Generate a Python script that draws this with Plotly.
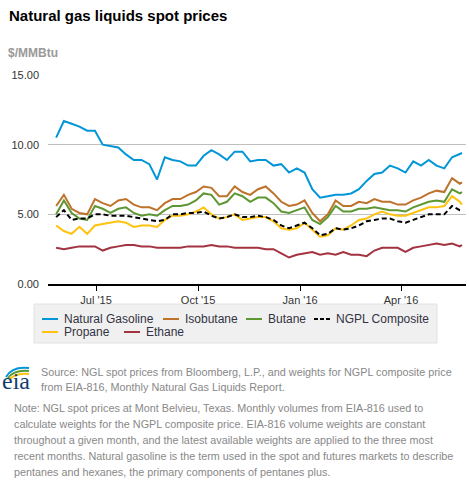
import plotly.graph_objects as go

# ---------------- data ----------------
dates = [
    "2015-05-26", "2015-06-02", "2015-06-09", "2015-06-16", "2015-06-23", "2015-06-30",
    "2015-07-07", "2015-07-14", "2015-07-21", "2015-07-28", "2015-08-04", "2015-08-11",
    "2015-08-18", "2015-08-25", "2015-09-01", "2015-09-08", "2015-09-15", "2015-09-22",
    "2015-09-29", "2015-10-06", "2015-10-13", "2015-10-20", "2015-10-27", "2015-11-03",
    "2015-11-10", "2015-11-17", "2015-11-24", "2015-12-01", "2015-12-08", "2015-12-15",
    "2015-12-22", "2015-12-29", "2016-01-05", "2016-01-12", "2016-01-19", "2016-01-26",
    "2016-02-02", "2016-02-09", "2016-02-16", "2016-02-23", "2016-03-01", "2016-03-08",
    "2016-03-15", "2016-03-22", "2016-03-29", "2016-04-05", "2016-04-12", "2016-04-19",
    "2016-04-26", "2016-05-03", "2016-05-10", "2016-05-17", "2016-05-24", "2016-05-26",
]

natural_gasoline = [
    10.5, 11.7, 11.5, 11.3, 11.0, 11.0, 10.0, 9.9, 9.8, 9.3, 8.9, 8.9,
    8.6, 7.5, 9.1, 8.9, 8.8, 8.5, 8.5, 9.2, 9.6, 9.3, 8.9, 9.5,
    9.5, 8.8, 8.9, 8.9, 8.5, 8.6, 8.0, 8.3, 8.0, 6.8, 6.2, 6.3,
    6.4, 6.4, 6.5, 6.8, 7.4, 7.9, 8.0, 8.5, 8.3, 8.0, 8.8, 8.5,
    8.9, 8.5, 8.3, 9.1, 9.3, 9.4,
]
isobutane = [
    5.6, 6.4, 5.4, 5.1, 5.0, 6.1, 5.8, 5.6, 6.0, 6.1, 5.7, 5.5,
    5.5, 5.3, 5.8, 6.1, 6.1, 6.4, 6.6, 7.0, 6.9, 6.3, 6.3, 7.0,
    6.6, 6.4, 6.8, 7.0, 6.5, 5.9, 5.6, 5.7, 6.0, 5.1, 4.5, 5.0,
    6.0, 5.6, 5.6, 5.9, 5.8, 6.1, 5.9, 5.9, 5.7, 5.7, 6.0, 6.2,
    6.5, 6.7, 6.6, 7.6, 7.2, 7.3,
]
butane = [
    5.0, 6.0, 5.1, 4.7, 4.6, 5.6, 5.4, 5.1, 5.4, 5.5, 5.1, 4.9,
    5.0, 4.9, 5.3, 5.6, 5.6, 5.7, 6.0, 6.5, 6.4, 5.7, 5.9, 6.5,
    6.3, 5.9, 6.2, 6.2, 5.8, 5.2, 5.1, 5.3, 5.5, 4.6, 4.3, 4.8,
    5.6, 5.2, 5.2, 5.4, 5.4, 5.5, 5.4, 5.3, 5.3, 5.2, 5.5, 5.7,
    5.9, 6.0, 5.9, 6.8, 6.5, 6.6,
]
ngpl_composite = [
    4.8, 5.3, 4.6, 4.7, 4.7, 5.0, 5.0, 4.9, 4.9, 4.9, 4.8, 4.7,
    4.6, 4.5, 4.6, 5.0, 5.0, 5.1, 5.1, 5.2, 4.9, 4.7, 4.8, 5.0,
    4.8, 4.8, 4.9, 4.8, 4.6, 4.2, 4.0, 4.2, 4.4, 4.0, 3.5, 3.6,
    4.0, 3.9, 4.0, 4.2, 4.5, 4.6, 4.7, 4.7, 4.5, 4.4, 4.6, 4.8,
    5.0, 5.0, 5.0, 5.6, 5.3, 5.3,
]
propane = [
    4.2, 3.8, 3.6, 4.1, 3.6, 4.2, 4.3, 4.4, 4.5, 4.4, 4.1, 4.2,
    4.2, 4.1, 4.6, 4.9, 4.9, 5.0, 5.2, 5.5, 5.0, 4.7, 4.8, 5.0,
    4.6, 4.7, 4.8, 4.8, 4.5, 4.0, 3.9, 4.0, 4.4, 3.9, 3.4, 3.5,
    4.0, 3.9, 4.2, 4.6, 4.7, 5.0, 5.2, 5.0, 4.9, 4.9, 5.1, 5.3,
    5.5, 5.5, 5.6, 6.3, 5.9, 5.7,
]
ethane = [
    2.6, 2.5, 2.6, 2.7, 2.7, 2.7, 2.4, 2.6, 2.7, 2.8, 2.8, 2.7,
    2.7, 2.6, 2.6, 2.6, 2.6, 2.7, 2.7, 2.7, 2.8, 2.7, 2.7, 2.6,
    2.6, 2.6, 2.6, 2.5, 2.5, 2.2, 1.9, 2.1, 2.2, 2.3, 2.1, 2.2,
    2.1, 2.3, 2.1, 2.1, 2.0, 2.4, 2.6, 2.6, 2.6, 2.3, 2.6, 2.7,
    2.8, 2.9, 2.8, 2.9, 2.7, 2.8,
]

series_names = ["Natural Gasoline", "Isobutane", "Butane", "NGPL Composite", "Propane", "Ethane"]
series_values = [natural_gasoline, isobutane, butane, ngpl_composite, propane, ethane]

x_tick_dates = ["2015-07-01", "2015-10-01", "2016-01-01", "2016-04-01"]
x_tick_labels = ["Jul '15", "Oct '15", "Jan '16", "Apr '16"]
y_tick_vals = [0, 5, 10, 15]
y_tick_labels = ["0.00", "5.00", "10.00", "15.00"]

# ---------------- styles ----------------
colors = {
    "Natural Gasoline": "#0096d7",
    "Isobutane": "#bd732a",
    "Butane": "#5d9732",
    "NGPL Composite": "#000000",
    "Propane": "#ffc20e",
    "Ethane": "#a33340",
}
dashes = {"NGPL Composite": "5px,3px"}
draw_order = ["Natural Gasoline", "Isobutane", "Butane", "Propane", "Ethane", "NGPL Composite"]

W, H = 469, 482
L, R, T, B = 48, 3, 75, 198
PW, PH = W - L - R, H - T - B


def px(x):
    return (x - L) / PW


def py(y):
    return (H - B - y) / PH


FONT = "Liberation Sans, Arial, sans-serif"

fig = go.Figure()
lookup = dict(zip(series_names, series_values))
for name in draw_order:
    fig.add_trace(go.Scatter(
        x=dates, y=lookup[name], mode="lines", name=name,
        line=dict(color=colors[name], width=2, dash=dashes.get(name, "solid")),
        showlegend=False, hoverinfo="x+y+name",
    ))

shapes = []
annotations = []

# title and unit
annotations.append(dict(x=px(7), y=py(15), xref="paper", yref="paper", text="<b>Natural gas liquids spot prices</b>",
                        showarrow=False, xanchor="left", yanchor="middle",
                        font=dict(family=FONT, size=15, color="#000000")))
annotations.append(dict(x=px(6), y=py(53), xref="paper", yref="paper", text="<b>$/MMBtu</b>",
                        showarrow=False, xanchor="left", yanchor="middle",
                        font=dict(family=FONT, size=12, color="#999999")))

# legend (manual)
shapes.append(dict(type="rect", xref="paper", yref="paper", x0=px(34), x1=px(437), y0=py(304), y1=py(343),
                   fillcolor="#f0f0f0", line=dict(color="#e2e2e2", width=1), layer="below"))
legend_layout = [
    ("Natural Gasoline", 42, 319), ("Isobutane", 163, 319), ("Butane", 246, 319), ("NGPL Composite", 314, 319),
    ("Propane", 42, 332), ("Ethane", 124, 332),
]
for name, lx, ly in legend_layout:
    shapes.append(dict(type="line", xref="paper", yref="paper", x0=px(lx), x1=px(lx + 16), y0=py(ly), y1=py(ly),
                       line=dict(color=colors[name], width=2,
                                 dash="4px,2px" if name in dashes else "solid")))
    annotations.append(dict(x=px(lx + 20), y=py(ly), xref="paper", yref="paper", text=name, showarrow=False,
                            xanchor="left", yanchor="middle",
                            font=dict(family=FONT, size=12, color="#333344")))

# eia logo
for col, (x0, y0, cx, cy, x1, y1) in [
    ("#0096d7", (6, 377, 12, 366, 29, 368)),
    ("#5d9732", (8, 378, 14, 369.5, 29, 371)),
    ("#ffc20e", (10, 379, 16, 373, 29, 374)),
]:
    path = f"M {px(x0)},{py(y0)} Q {px(cx)},{py(cy)} {px(x1)},{py(y1)}"
    shapes.append(dict(type="path", xref="paper", yref="paper", path=path, line=dict(color=col, width=2)))
annotations.append(dict(x=px(16), y=py(381), xref="paper", yref="paper", text="eia", showarrow=False,
                        xanchor="center", yanchor="middle",
                        font=dict(family="Liberation Serif, Times New Roman, serif", size=24, color="#123e6b")))

# source + note
source_lines = [
    "Source: NGL spot prices from Bloomberg, L.P., and weights for NGPL composite price",
    "from EIA-816, Monthly Natural Gas Liquids Report.",
]
for i, t in enumerate(source_lines):
    annotations.append(dict(x=px(39), y=py(372 + 15 * i), xref="paper", yref="paper", text=t, showarrow=False,
                            xanchor="left", yanchor="middle",
                            font=dict(family=FONT, size=10.8, color="#888888")))
note_lines = [
    "Note: NGL spot prices at Mont Belvieu, Texas. Monthly volumes from EIA-816 used to",
    "calculate weights for the NGPL composite price. EIA-816 volume weights are constant",
    "throughout a given month, and the latest available weights are applied to the three most",
    "recent months. Natural gasoline is the term used in the spot and futures markets to describe",
    "pentanes and hexanes, the primary components of pentanes plus.",
]
for i, t in enumerate(note_lines):
    annotations.append(dict(x=px(12), y=py(408 + 16 * i), xref="paper", yref="paper", text=t, showarrow=False,
                            xanchor="left", yanchor="middle",
                            font=dict(family=FONT, size=10.8, color="#888888")))

fig.update_layout(
    width=W, height=H,
    margin=dict(l=L, r=R, t=T, b=B, pad=0),
    paper_bgcolor="#ffffff", plot_bgcolor="#ffffff",
    showlegend=False,
    shapes=shapes, annotations=annotations,
    xaxis=dict(
        type="date", range=["2015-05-18 16:00", "2016-05-29 14:00"],
        tickvals=x_tick_dates, ticktext=x_tick_labels,
        ticks="outside", ticklen=5, tickcolor="#000000", tickwidth=1,
        showgrid=False, zeroline=False,
        showline=True, linecolor="#000000", linewidth=1.5,
        tickfont=dict(family=FONT, size=11, color="#333333"),
        fixedrange=True,
    ),
    yaxis=dict(
        range=[0, 15], tickvals=y_tick_vals, ticktext=y_tick_labels,
        showgrid=True, gridcolor="#bfbfbf", gridwidth=1,
        zeroline=False, showline=False, ticks="", ticklabelstandoff=8,
        tickfont=dict(family=FONT, size=11, color="#333333"),
        fixedrange=True,
    ),
)

fig.write_html(
    "out.html",
    config={"displayModeBar": False},
    post_script="document.body.style.margin='0';document.body.style.overflow='hidden';",
)
